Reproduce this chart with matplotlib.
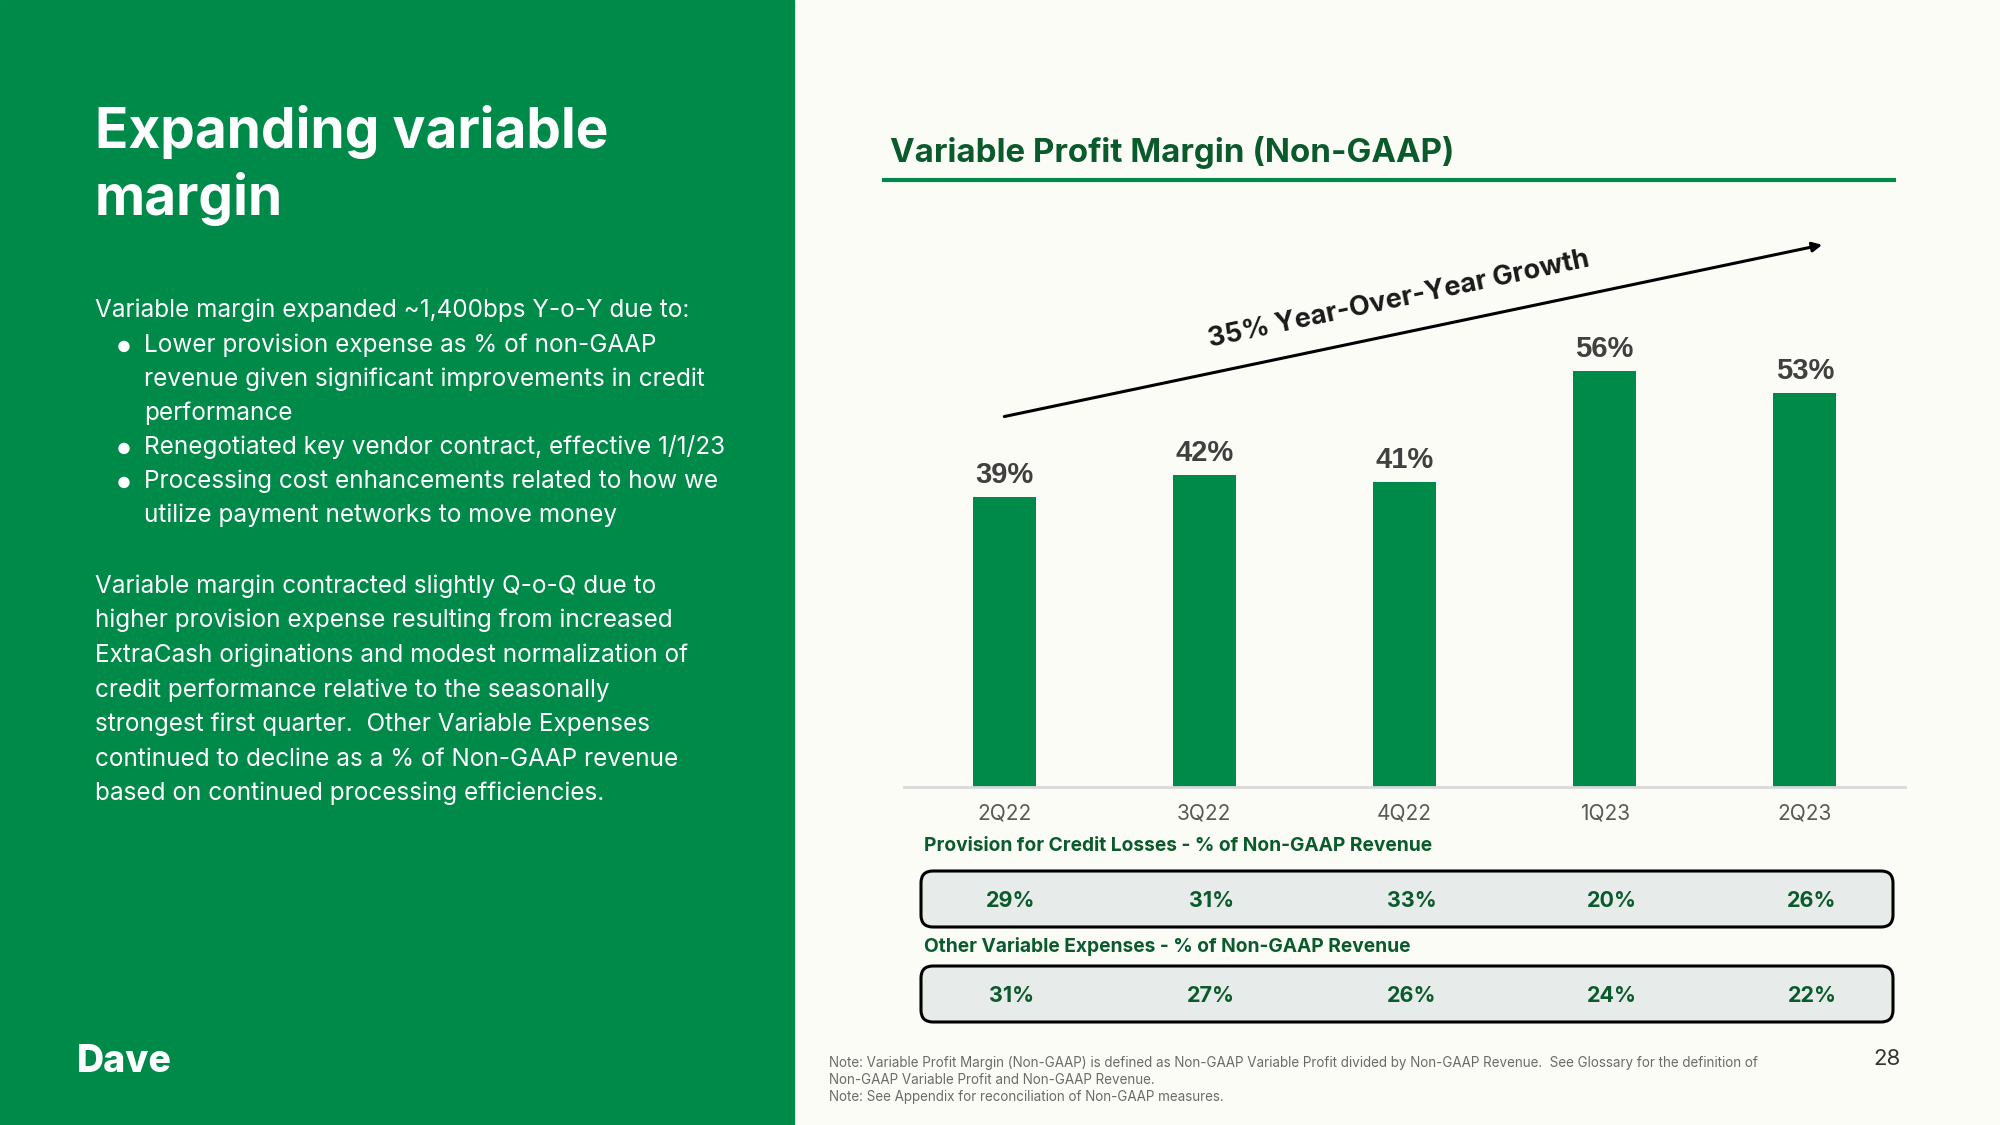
import matplotlib.pyplot as plt
from matplotlib.patches import FancyBboxPatch, Rectangle
from matplotlib import transforms

# ---------------------------------- data ----------------------------------
quarters = ["2Q22", "3Q22", "4Q22", "1Q23", "2Q23"]
margin_pct = [39, 42, 41, 56, 53]
provision_pct = [29, 31, 33, 20, 26]
other_var_pct = [31, 27, 26, 24, 22]

GREEN = "#008A4A"
DARK_GREEN = "#0B5A2C"
BG = "#FCFCF7"

plt.rcParams['font.family'] = ['Inter', 'DejaVu Sans']

fig = plt.figure(figsize=(20, 11.25), dpi=100, facecolor=BG)

# background axes in pixel units (y pointing down) for the slide layout
bg = fig.add_axes([0, 0, 1, 1])
bg.set_xlim(0, 2000)
bg.set_ylim(1125, 0)
bg.axis('off')
bg.add_patch(Rectangle((0, 0), 794, 1125, color=GREEN, zorder=0))

# left panel text
bg.text(95, 148, "Expanding variable", color='white', fontsize=39.6, fontweight='bold', va='baseline')
bg.text(95, 215, "margin", color='white', fontsize=39.6, fontweight='bold', va='baseline')

body = [
    (317, False, "Variable margin expanded ~1,400bps Y-o-Y due to:"),
    (352, True, "Lower provision expense as % of non-GAAP"),
    (386, False, "revenue given significant improvements in credit"),
    (420, False, "performance"),
    (454, True, "Renegotiated key vendor contract, effective 1/1/23"),
    (488, True, "Processing cost enhancements related to how we"),
    (522, False, "utilize payment networks to move money"),
]
for y, bullet, line in body:
    x = 95 if y == 317 else 144
    if bullet:
        bg.text(124, y, "\u25CF", color='white', fontsize=11, va='baseline', ha='center')
    bg.text(x, y, line, color='white', fontsize=17.5, va='baseline')

para2 = [
    "Variable margin contracted slightly Q-o-Q due to",
    "higher provision expense resulting from increased",
    "ExtraCash originations and modest normalization of",
    "credit performance relative to the seasonally",
    "strongest first quarter.  Other Variable Expenses",
    "continued to decline as a % of Non-GAAP revenue",
    "based on continued processing efficiencies.",
]
for i, line in enumerate(para2):
    bg.text(95, 593 + 34.5 * i, line, color='white', fontsize=17.5, va='baseline')

bg.text(77, 1072, "Dave", color='white', fontsize=27, fontweight='heavy', va='baseline')

# right panel header
bg.text(890, 162, "Variable Profit Margin (Non-GAAP)", color=DARK_GREEN, fontsize=23.8,
        fontweight='bold', va='baseline')
bg.plot([882, 1896], [180, 180], color=GREEN, lw=3, solid_capstyle='butt')

# ---------------------------------- bars ----------------------------------
ax = fig.add_axes([0.452, 0.3008, 0.5005, 0.5276])
ax.set_facecolor('none')
x = list(range(len(quarters)))
bars = ax.bar(x, margin_pct, width=0.315, color=GREEN, zorder=2)
ax.bar_label(bars, labels=[f"{v}%" for v in margin_pct], padding=6, fontsize=21,
             fontweight='bold', color='#404040', family=['Liberation Sans'])
ax.set_xlim(-0.5, 4.5)
ax.set_ylim(0, 80)
ax.set_xticks(x, quarters)
ax.tick_params(axis='x', length=0, pad=12, labelsize=15, labelcolor='#595959')
ax.set_yticks([])
for side in ['top', 'left', 'right']:
    ax.spines[side].set_visible(False)
ax.spines['bottom'].set_color('#D9D9D9')
ax.spines['bottom'].set_linewidth(2)

ax.annotate("", xy=(4.10, 73.1), xytext=(-0.0125, 49.8),
            arrowprops=dict(arrowstyle='-|>', color='black', lw=2.2, mutation_scale=14))
ax.text(1.97, 65.6, "35% Year-Over-Year Growth", rotation=12, ha='center', va='center',
        fontsize=19.5, fontweight='bold', color='#1a1a1a')

# ------------------------------ metric boxes ------------------------------
row_trans = transforms.blended_transform_factory(ax.transData, bg.transData)
rows = [
    ("Provision for Credit Losses - % of Non-GAAP Revenue", 846, 871, provision_pct),
    ("Other Variable Expenses - % of Non-GAAP Revenue", 947, 966, other_var_pct),
]
for title, ty, top, vals in rows:
    bg.text(924, ty, title, color=DARK_GREEN, fontsize=13.8, fontweight='bold', va='center')
    bg.add_patch(FancyBboxPatch((921, top), 972, 56, boxstyle="round,pad=0,rounding_size=12",
                                facecolor='#E7EBE9', edgecolor='black', lw=2.2))
    for i, v in enumerate(vals):
        ax.text(i + 0.035, top + 30, f"{v}%", transform=row_trans, ha='center', va='center',
                fontsize=15.5, fontweight='bold', color=DARK_GREEN)

# footnote and page number
notes = [
    "Note: Variable Profit Margin (Non-GAAP) is defined as Non-GAAP Variable Profit divided by Non-GAAP Revenue.  See Glossary for the definition of",
    "Non-GAAP Variable Profit and Non-GAAP Revenue.",
    "Note: See Appendix for reconciliation of Non-GAAP measures.",
]
for i, line in enumerate(notes):
    bg.text(829, 1063 + 17 * i, line, color='#6B6B6B', fontsize=9.7, va='center')
bg.text(1887, 1059, "28", color='#333333', fontsize=16, ha='center', va='center')

fig.savefig("out.png", dpi=100, facecolor=BG)
